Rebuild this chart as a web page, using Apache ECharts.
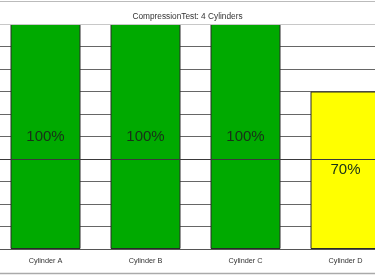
<!DOCTYPE html>
<html>
<head>
<meta charset="utf-8">
<script src="https://cdn.jsdelivr.net/npm/echarts@6/dist/echarts.min.js"></script>
<style>html,body{margin:0;padding:0;background:#fff;}#c{width:375px;height:275px;}</style>
</head>
<body>
<div id="c"></div>
<script>
var categories = ['Cylinder A', 'Cylinder B', 'Cylinder C', 'Cylinder D'];
var values = [100, 100, 100, 70];
var barColors = ['#00aa00', '#00aa00', '#00aa00', '#ffff00'];
var thresholdValue = [40];
var axisMax = [100];
var titleText = 'CompressionTest: 4 Cylinders';

var chart = echarts.init(document.getElementById('c'), null, {renderer: 'canvas'});
chart.setOption({
  animation: false,
  backgroundColor: '#fff',
  title: {
    text: titleText, left: 'center', top: 8,
    textStyle: {fontSize: 8.3, fontWeight: 'normal', color: '#333', fontFamily: 'Liberation Sans, Arial, sans-serif'}
  },
  graphic: [
    {type: 'line', shape: {x1: 0, y1: 1.5, x2: 375, y2: 1.5}, style: {stroke: '#bbb', lineWidth: 1}},
    {type: 'line', shape: {x1: 0, y1: 273.5, x2: 375, y2: 273.5}, style: {stroke: '#aaa', lineWidth: 1.5}}
  ],
  grid: {left: -4.5, width: 400, top: 24, bottom: 26, containLabel: false, outerBoundsMode: 'none'},
  xAxis: {
    type: 'category', data: categories,
    axisLine: {show: true, lineStyle: {color: '#555', width: 1}},
    axisTick: {show: false},
    axisLabel: {fontSize: 7.3, color: '#333', margin: 8, fontFamily: 'Liberation Sans, Arial, sans-serif'}
  },
  yAxis: {
    type: 'value', min: 0, max: axisMax[0], interval: 10,
    axisLabel: {show: false}, axisLine: {show: false}, axisTick: {show: false},
    splitLine: {show: true, showMaxLine: false, lineStyle: {color: '#666', width: 1}}
  },
  series: [{
    type: 'line',
    data: [],
    z: 1,
    silent: true,
    markLine: {
      silent: true, symbol: 'none', label: {show: false},
      lineStyle: {color: '#c8c8c8', width: 1, type: 'solid'},
      data: [{yAxis: axisMax[0]}]
    }
  }, {
    type: 'bar',
    barWidth: 70,
    z: 3,
    data: values.map(function (v, i) {
      return {value: v, itemStyle: {color: barColors[i], borderColor: '#2a2a2a', borderWidth: 1}};
    }),
    label: {
      show: true, position: 'inside', formatter: '{c}%',
      fontSize: 15, color: '#183018', fontFamily: 'Liberation Sans, Arial, sans-serif'
    },
    markLine: {
      silent: true, symbol: 'none', label: {show: false},
      lineStyle: {color: '#3a3a3a', width: 1, type: 'solid'},
      data: [{yAxis: thresholdValue[0]}]
    }
  }]
});
</script>
</body>
</html>
